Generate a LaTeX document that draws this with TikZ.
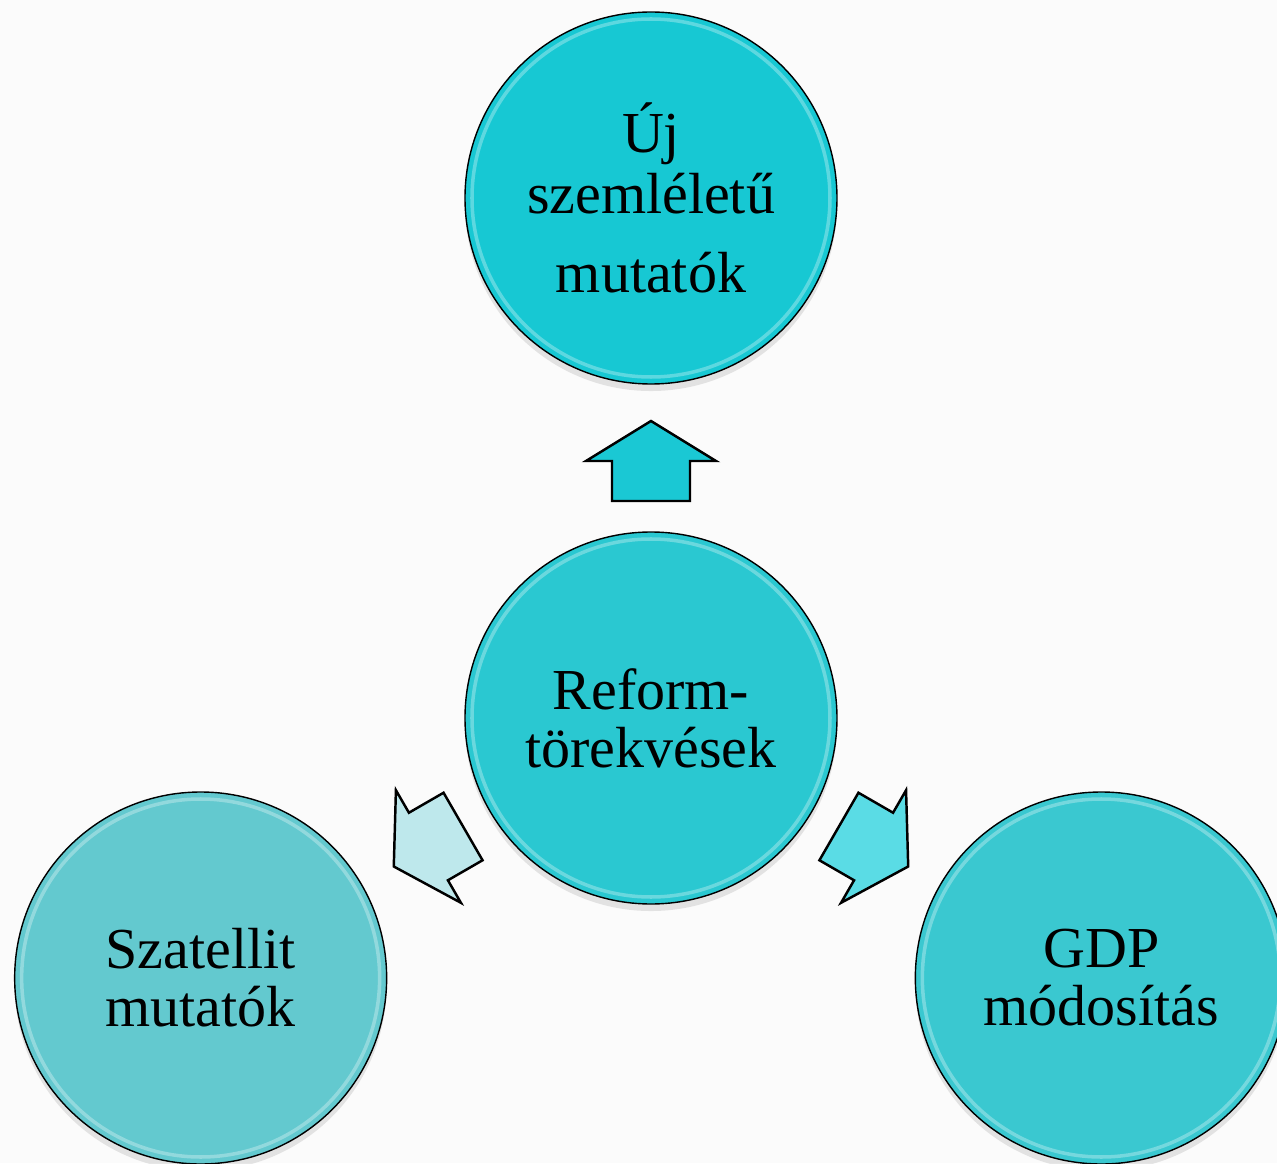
\documentclass[tikz,border=0pt]{standalone}
\usepackage{fontspec}
\setmainfont{Liberation Serif}
\usepackage{tikz}
\usetikzlibrary{shadows}

\definecolor{bgpaper}{HTML}{FBFBFB}
\definecolor{ballUj}{HTML}{17C8D3}
\definecolor{ballReform}{HTML}{2AC8D1}
\definecolor{ballSzat}{HTML}{63C9CF}
\definecolor{ballGDP}{HTML}{3AC8D0}
\definecolor{arrUp}{HTML}{1AC8D4}
\definecolor{arrLeft}{HTML}{BEE8EC}
\definecolor{arrRight}{HTML}{5ADCE5}

\begin{document}
\begin{tikzpicture}[
		scale=1,
		every node/.style={circle, draw, line width=0.8pt, minimum size=7.44cm, align=center,
			font=\fontsize{33}{33}\selectfont,
			drop shadow={shadow xshift=0pt, shadow yshift=-4pt, opacity=0.2},
			path picture={\draw[white, opacity=0.3, line width=2pt] (path picture bounding box.center) circle (3.58cm);}},
		blockarrow/.style={draw, line width=1.4pt, line join=miter}
	]
  \useasboundingbox (-13.02cm, -8.9cm) rectangle (12.52cm, 14.36cm);
  \fill[bgpaper] (-13.02cm, -8.9cm) rectangle (12.52cm, 14.36cm);
  \node (reform) [fill=ballReform] at (0cm, 0cm) {Reform-\\törekvések};
  \node (uj) [fill=ballUj] at (90:10.4cm) {Új\\[2pt]szemléletű\\[12pt]mutatók};
  \node (szat) [fill=ballSzat] at (210:10.4cm) {Szatellit\\mutatók};
  \node (gdp) [fill=ballGDP] at (330:10.4cm) {GDP\\módosítás};
  % block arrows out of the centre
  \draw[blockarrow, fill=arrUp] (reform.center) ++(0cm, 5.94cm) -- ++(1.3cm, -0.8cm) -- ++(-0.52cm, 0cm) -- ++(0cm, -0.8cm) -- ++(-1.56cm, 0cm) -- ++(0cm, 0.8cm) -- ++(-0.52cm, 0cm) -- cycle;
  \draw[blockarrow, fill=arrLeft, rotate=120] (reform.center) ++(0cm, 5.94cm) -- ++(1.3cm, -0.8cm) -- ++(-0.52cm, 0cm) -- ++(0cm, -0.8cm) -- ++(-1.56cm, 0cm) -- ++(0cm, 0.8cm) -- ++(-0.52cm, 0cm) -- cycle;
  \draw[blockarrow, fill=arrRight, rotate=-120] (reform.center) ++(0cm, 5.94cm) -- ++(1.3cm, -0.8cm) -- ++(-0.52cm, 0cm) -- ++(0cm, -0.8cm) -- ++(-1.56cm, 0cm) -- ++(0cm, 0.8cm) -- ++(-0.52cm, 0cm) -- cycle;
\end{tikzpicture}
\end{document}
